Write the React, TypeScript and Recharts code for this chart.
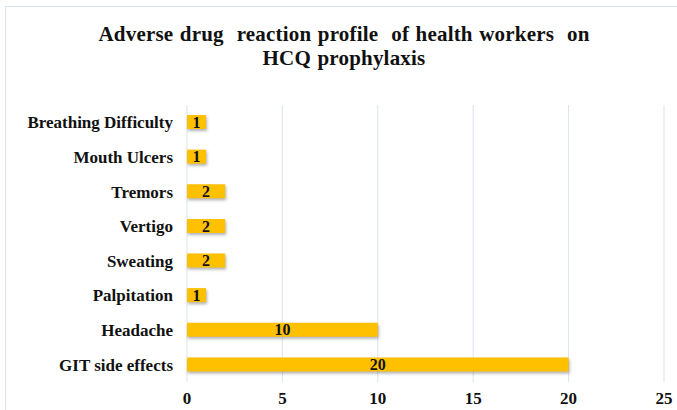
import React from 'react';
import { BarChart, Bar, XAxis, YAxis, CartesianGrid, LabelList } from 'recharts';

const categories = [
  'Breathing Difficulty',
  'Mouth Ulcers',
  'Tremors',
  'Vertigo',
  'Sweating',
  'Palpitation',
  'Headache',
  'GIT side effects',
];
const counts = [1, 1, 2, 2, 2, 1, 10, 20];
const xTicks = [0, 5, 10, 15, 20, 25];

const data = categories.map((name, i) => ({ name, count: counts[i] }));

const font = '"Liberation Serif", "Times New Roman", serif';

const App: React.FC = () => {
  return (
    <div style={{ position: 'absolute', left: 0, top: 0, width: 677, height: 410, background: '#fff', overflow: 'hidden' }}>
      <style>{`.recharts-bar-rectangle path { filter: drop-shadow(1px 2px 1.5px rgba(0,0,0,0.3)); }`}</style>
      {/* outer frame of the chart area */}
      <div style={{ position: 'absolute', left: 5, top: 6, width: 700, height: 440, border: '1px solid #dbe5f1' }} />
      <div
        style={{
          position: 'absolute', left: 0, top: 22, width: 688, textAlign: 'center',
          fontFamily: font, fontWeight: 'bold', fontSize: 21, lineHeight: '24px', color: '#111',
          letterSpacing: 0.2, wordSpacing: 1,
        }}
      >
        Adverse drug&nbsp; reaction&nbsp;profile&nbsp; of health workers&nbsp; on
        <br />
        HCQ prophylaxis
      </div>
      <BarChart
        width={677}
        height={410}
        layout="vertical"
        data={data}
        margin={{ top: 105, right: 13, bottom: 0, left: 0 }}
        style={{ position: 'absolute', left: 0, top: 0 }}
      >
        <CartesianGrid horizontal={false} stroke="#d9e3f0" />
        <XAxis
          type="number"
          domain={[0, 25]}
          ticks={xTicks}
          axisLine={false}
          tickLine={false}
          tickSize={0}
          tickMargin={10}
          height={28}
          tick={{ fill: '#111', fontSize: 17, fontWeight: 'bold', fontFamily: font }}
        />
        <YAxis
          type="category"
          dataKey="name"
          width={187}
          axisLine={false}
          tickLine={false}
          tickSize={0}
          tickMargin={14}
          interval={0}
          tick={{ fill: '#111', fontSize: 17, fontWeight: 'bold', fontFamily: font }}
        />
        <Bar dataKey="count" fill="#FFC000" barSize={14} isAnimationActive={false}>
          <LabelList
            dataKey="count"
            position="center"
            fill="#111"
            style={{ fontSize: 16, fontWeight: 'bold', fontFamily: font }}
          />
        </Bar>
      </BarChart>
    </div>
  );
};

export default App;
